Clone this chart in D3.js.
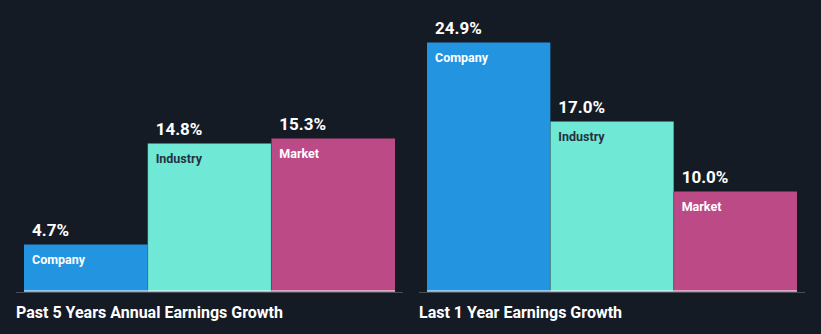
<!DOCTYPE html>
<html>
<head>
<meta charset="utf-8">
<script src="https://cdn.jsdelivr.net/npm/d3@7"></script>
<style>
  html, body { margin: 0; padding: 0; background: #151b24; }
  svg { display: block; font-family: Roboto, "Noto Sans", sans-serif; }
</style>
</head>
<body>
<svg id="chart" width="821" height="334"></svg>
<script>
// Earnings growth comparison data
const categories = ["Company", "Industry", "Market"];
const past5Years = [4.7, 14.8, 15.3];
const last1Year = [24.9, 17.0, 10.0];
const panelTitles = ["Past 5 Years Annual Earnings Growth", "Last 1 Year Earnings Growth"];

const colors = { Company: "#2394df", Industry: "#6fe8d5", Market: "#bb4a86" };
const labelColors = { Company: "#ffffff", Industry: "#263140", Market: "#ffffff" };

const svg = d3.select("#chart");
const W = 821, H = 334;
svg.append("rect").attr("width", W).attr("height", H).attr("fill", "#151b24");

const y = d3.scaleLinear().domain([0, 25]).range([291.5, 41.5]);

const panels = [
  { x0: 16, x1: 403, values: past5Years, title: panelTitles[0] },
  { x0: 419, x1: 805, values: last1Year, title: panelTitles[1] }
];

panels.forEach(p => {
  const x = d3.scaleBand().domain(categories).range([p.x0 + 8, p.x1 - 8]).padding(0);
  const g = svg.append("g");
  const data = categories.map((c, i) => ({ c, v: p.values[i] }));

  g.selectAll("rect.bar").data(data).join("rect")
    .attr("class", "bar")
    .attr("x", d => x(d.c))
    .attr("width", x.bandwidth())
    .attr("y", d => y(d.v))
    .attr("height", d => y(0) - y(d.v))
    .attr("fill", d => colors[d.c]);

  // thin separators between adjacent bars
  g.selectAll("line.sep").data(data.slice(1)).join("line")
    .attr("class", "sep")
    .attr("x1", d => x(d.c)).attr("x2", d => x(d.c))
    .attr("y1", d => y(d.v)).attr("y2", y(0))
    .attr("stroke", "#151b24").attr("stroke-opacity", 0.25).attr("stroke-width", 1);

  // baseline: gray axis plus white edge under the bars
  g.append("line")
    .attr("x1", p.x0).attr("x2", p.x1)
    .attr("y1", 292.5).attr("y2", 292.5)
    .attr("stroke", "#4a4f57").attr("stroke-width", 1);
  g.append("line")
    .attr("x1", p.x0 + 8).attr("x2", p.x1 - 8)
    .attr("y1", 291).attr("y2", 291)
    .attr("stroke", "#ffffff").attr("stroke-width", 1);

  // value labels above bars
  g.selectAll("text.val").data(data).join("text")
    .attr("class", "val")
    .attr("x", d => x(d.c) + 8)
    .attr("y", d => y(d.v) - 9)
    .attr("fill", "#ffffff")
    .attr("font-size", 17)
    .attr("font-weight", 700)
    .text(d => d.v.toFixed(1) + "%");

  // category labels inside bars
  g.selectAll("text.cat").data(data).join("text")
    .attr("class", "cat")
    .attr("x", d => x(d.c) + 8)
    .attr("y", d => y(d.v) + 19)
    .attr("fill", d => labelColors[d.c])
    .attr("font-size", 12.5)
    .attr("font-weight", 700)
    .text(d => d.c);

  // panel title
  g.append("text")
    .attr("x", p.x0)
    .attr("y", 317.5)
    .attr("fill", "#ffffff")
    .attr("font-size", 16)
    .attr("font-weight", 700)
    .text(p.title);
});
</script>
</body>
</html>
